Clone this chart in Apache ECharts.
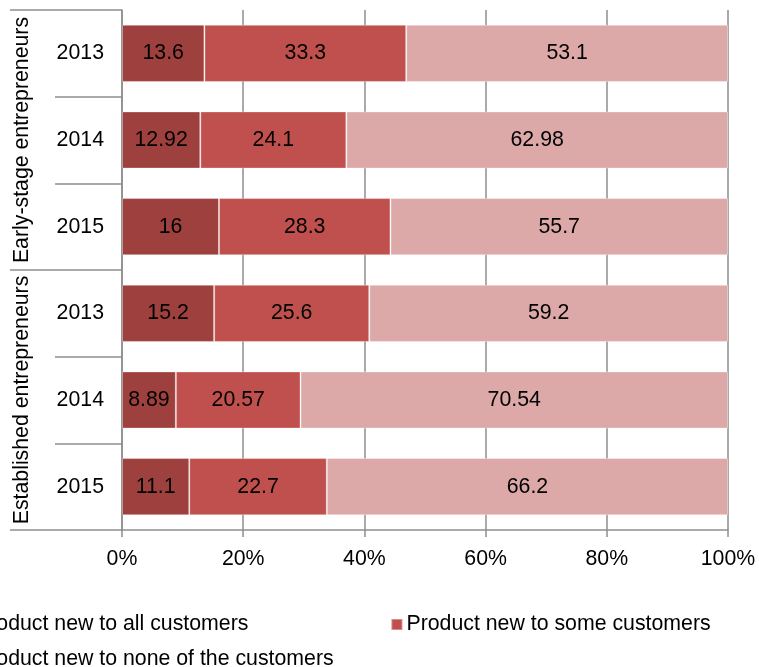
<!DOCTYPE html>
<html>
<head>
<meta charset="utf-8">
<script src="https://cdn.jsdelivr.net/npm/echarts@6/dist/echarts.min.js"></script>
<style>
  html, body { margin: 0; padding: 0; background: #fff; }
  #chart { width: 759px; height: 667px; }
</style>
</head>
<body>
<div id="chart"></div>
<script>
// Years within each entrepreneur group, top to bottom
const years = ['2013', '2014', '2015', '2013', '2014', '2015'];
// Group labels, one per block of three years
const groups = ['Early-stage entrepreneurs', 'Established entrepreneurs'];

const seriesNames = [
  'Product new to all customers',
  'Product new to some customers',
  'Product new to none of the customers'
];

// Shares (%) per bar
const newToAll = [13.6, 12.92, 16, 15.2, 8.89, 11.1];
const newToSome = [33.3, 24.1, 28.3, 25.6, 20.57, 22.7];
const newToNone = [53.1, 62.98, 55.7, 59.2, 70.54, 66.2];

const xTicks = [0, 20, 40, 60, 80, 100];

const colors = ['#9E413E', '#C0504D', '#DCA9A8'];
const gridGrey = '#8E8E8E';
const FONT = 'Liberation Sans, Arial, sans-serif';
const FS = 21.3;

const chart = echarts.init(document.getElementById('chart'), null, { renderer: 'canvas' });

function barSeries(name, data, color) {
  return {
    name: name,
    type: 'bar',
    stack: 'total',
    yAxisIndex: 0,
    barWidth: '66%',
    data: data,
    itemStyle: { color: color, borderColor: 'rgba(255,255,255,0.35)', borderWidth: 1 },
    label: {
      show: true,
      position: 'inside',
      color: '#000',
      fontFamily: FONT,
      fontSize: FS,
      formatter: p => String(p.value)
    },
    emphasis: { disabled: true }
  };
}

chart.setOption({
  animation: false,
  textStyle: { fontFamily: FONT },
  grid: { left: 122, right: 31, top: 10, bottom: 137, containLabel: false },
  legend: [
    {
      data: [seriesNames[0], seriesNames[1]],
      left: -46, top: 609,
      icon: 'rect', itemWidth: 11, itemHeight: 11, itemGap: 142,
      textStyle: { fontFamily: FONT, fontSize: FS, color: '#000', padding: [0, 0, 0, -1] },
      selectedMode: false
    },
    {
      data: [seriesNames[2]],
      left: -46, top: 644,
      icon: 'rect', itemWidth: 11, itemHeight: 11,
      textStyle: { fontFamily: FONT, fontSize: FS, color: '#000', padding: [0, 0, 0, -1] },
      selectedMode: false
    }
  ],
  xAxis: {
    type: 'value',
    min: xTicks[0],
    max: xTicks[xTicks.length - 1],
    interval: 20,
    axisLine: { show: true, lineStyle: { color: gridGrey, width: 1.5 } },
    axisTick: { show: true, length: 7, lineStyle: { color: gridGrey, width: 1.5 } },
    splitLine: { show: true, lineStyle: { color: gridGrey, width: 1.5 } },
    axisLabel: {
      formatter: '{value}%',
      color: '#000',
      fontFamily: FONT,
      fontSize: FS,
      margin: 19
    }
  },
  yAxis: [
    {
      type: 'category',
      data: years,
      inverse: true,
      axisLine: { show: true, lineStyle: { color: gridGrey, width: 1.5 } },
      axisTick: { show: true, interval: 0, length: 67, alignWithLabel: false, lineStyle: { color: gridGrey, width: 1.5 } },
      axisLabel: { interval: 0, color: '#000', fontFamily: FONT, fontSize: FS, margin: 18 },
      splitLine: { show: false }
    },
    {
      type: 'category',
      data: groups,
      inverse: true,
      position: 'left',
      axisLine: { show: false },
      axisTick: { show: true, interval: 0, length: 112, alignWithLabel: false, lineStyle: { color: gridGrey, width: 1.5 } },
      axisLabel: { interval: 0, color: '#000', fontFamily: FONT, fontSize: FS, rotate: 90, margin: 89, hideOverlap: false },
      splitLine: { show: false }
    }
  ],
  series: [
    barSeries(seriesNames[0], newToAll, colors[0]),
    barSeries(seriesNames[1], newToSome, colors[1]),
    barSeries(seriesNames[2], newToNone, colors[2])
  ]
});
</script>
</body>
</html>
